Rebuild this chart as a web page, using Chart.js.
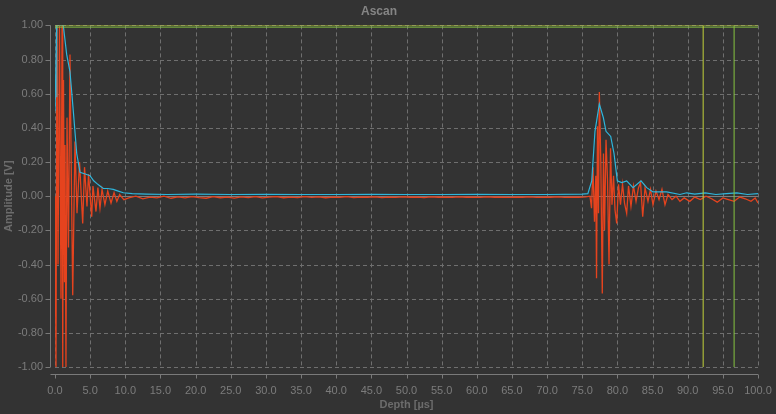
<!DOCTYPE html>
<html>
<head>
<meta charset="utf-8">
<title>Ascan</title>
<script src="https://cdn.jsdelivr.net/npm/chart.js@4/dist/chart.umd.min.js"></script>
<style>
  html, body { margin: 0; padding: 0; background: #333333; }
  canvas { display: block; }
</style>
</head>
<body>
<canvas id="ascan" width="776" height="414"></canvas>
<script>
// depth [us] / amplitude [V]
let rfTime = [
  0.0, 0.14, 0.28, 0.43, 0.64, 0.85, 1.0, 1.1, 1.21, 1.35, 1.42, 1.56, 1.71, 1.92, 2.13, 2.52,
  2.84, 3.13, 3.49, 3.94, 4.2, 4.55, 4.77, 5.22, 5.4, 5.83, 6.1, 6.4, 6.69, 7.1, 7.5, 7.97,
  8.4, 8.8, 9.2, 9.8,
  10.5, 11.5, 12.5, 13.5, 14.5, 15.5, 16.5, 17.5, 18.5, 19.5, 20.5, 21.5, 22.5, 23.5, 24.5,
  25.5, 26.5, 27.5, 28.5, 29.5, 30.5, 31.5, 32.5, 33.5, 34.5, 35.5, 36.5, 37.5, 38.5, 39.5,
  40.5, 41.5, 42.5, 43.5, 44.5, 45.5, 46.5, 47.5, 48.5, 49.5, 50.5, 51.5, 52.5, 53.5, 54.5,
  55.5, 56.5, 57.5, 58.5, 59.5, 60.5, 61.5, 62.5, 63.5, 64.5, 65.5, 66.5, 67.5, 68.5, 69.5,
  70.5, 71.5, 72.5, 73.5, 74.5, 75.5,
  76.1, 76.32, 76.53, 76.74, 76.93, 77.03, 77.17, 77.31, 77.43, 77.64, 77.85, 78.02, 78.17,
  78.38, 78.59, 78.81, 79.02, 79.23, 79.45, 79.66, 79.9, 80.16, 80.44, 80.73, 81.01, 81.32,
  81.58, 81.93, 82.29, 82.65, 83.0, 83.29, 83.6, 83.93, 84.35, 84.71, 85.06, 85.49, 85.92,
  86.34, 86.77, 87.2, 87.77, 88.34, 88.9,
  89.5, 90.3, 91.0, 91.8, 92.6, 93.4, 94.2, 95.0, 95.8, 96.6, 97.4, 98.2, 99.0, 99.6, 100.0
]
let rfAmp = [
  0.0, -1.0, 1.0, -0.4, 1.0, -0.6, 1.0, -1.0, 0.68, -0.5, 0.3, -1.0, 0.46, -0.3, 0.83, -0.58,
  0.32, -0.1, 0.2, -0.16, 0.17, -0.06, 0.13, -0.12, 0.06, -0.09, 0.05, -0.07, 0.04, -0.05, 0.03, -0.04,
  0.02, -0.03, 0.01, -0.02,
  -0.01, 0.0, -0.015, -0.005, -0.01, 0.0, -0.012, -0.004, -0.01, -0.002, -0.008, -0.012, -0.003, -0.009, -0.005,
  -0.011, -0.004, -0.008, -0.002, -0.01, -0.006, -0.003, -0.009, -0.005, -0.008, -0.003, -0.007, -0.004, -0.009, -0.005,
  -0.007, -0.003, -0.008, -0.005, -0.006, -0.004, -0.008, -0.005, -0.007, -0.004, -0.006, -0.005, -0.008, -0.004, -0.006,
  -0.005, -0.007, -0.004, -0.006, -0.005, -0.007, -0.004, -0.006, -0.005, -0.007, -0.005, -0.006, -0.004, -0.007, -0.005,
  -0.006, -0.004, -0.007, -0.005, -0.006, -0.004,
  0.0, -0.07, 0.17, -0.15, 0.12, -0.48, 0.41, -0.1, 0.61, 0.2, -0.57, 0.25, -0.2,
  0.33, 0.1, -0.4, 0.28, -0.05, 0.12, -0.08, -0.16, 0.07, -0.05, 0.07, -0.04, -0.1,
  0.06, -0.06, 0.06, -0.03, 0.05, 0.08, -0.12, 0.05, -0.03, 0.04, -0.05, 0.03, -0.02,
  0.04, -0.05, 0.01, -0.02, 0.0, -0.03,
  -0.01, -0.03, -0.005, -0.02, 0.0, -0.015, -0.035, -0.01, -0.02, -0.03, -0.005, -0.015, -0.03, -0.01, -0.04
]

let envTime = [
  0.0, 0.24, 1.18, 1.66, 2.13, 2.6, 3.09, 3.56, 4.3, 4.98, 5.5, 5.93, 6.4, 6.87, 7.5, 8.29, 9.0, 9.72,
  11, 13, 16, 20, 25, 30, 35, 40, 45, 50, 55, 60, 65, 70, 75, 75.8,
  76.35, 76.81, 77.43, 78.0, 78.38, 79.05, 79.52, 79.99, 80.61, 81.32, 82.22, 83.36, 84.17, 85.06,
  87.01, 88.9, 89.86, 91, 92.5, 94, 95.5, 97, 98.5, 100
]
let envAmp = [
  0.5, 1.0, 1.0, 0.83, 0.73, 0.5, 0.25, 0.14, 0.13, 0.12, 0.09, 0.075, 0.06, 0.045, 0.045, 0.04, 0.03, 0.02,
  0.015, 0.012, 0.01, 0.012, 0.01, 0.011, 0.01, 0.01, 0.011, 0.01, 0.01, 0.011, 0.01, 0.01, 0.012, 0.015,
  0.09, 0.38, 0.54, 0.46, 0.38, 0.35, 0.25, 0.09, 0.08, 0.09, 0.05, 0.09, 0.05, 0.025,
  0.025, 0.01, 0.02, 0.012, 0.02, 0.01, 0.015, 0.02, 0.01, 0.015
]

// gates: [start, end, level]
let gateA = [0.0, 92.2, 1.0]
let gateB = [0.0, 96.6, 0.99]
let markerTime = [0.24, 0.24]
let markerAmp = [0.58, 1.0]

let xTicks = { min: 0, max: 100, step: 5 }
let yTicks = { min: -1, max: 1, step: 0.2 }

function toPoints(xs, ys) {
  return xs.map((x, i) => ({ x: x, y: ys[i] }))
}

function gateLevel(g) {
  return [{ x: g[0], y: g[2] }, { x: xTicks.max, y: g[2] }]
}

function gateEnd(g) {
  return [{ x: g[1], y: yTicks.min }, { x: g[1], y: yTicks.max }]
}

// background, dashed grid, zero line and the offset axes
let scopeFrame = {
  id: 'scopeFrame',
  beforeDraw(chart) {
    let ctx = chart.ctx
    ctx.save()
    ctx.fillStyle = '#333333'
    ctx.fillRect(0, 0, chart.width, chart.height)
    ctx.restore()
  },
  beforeDatasetsDraw(chart) {
    let ctx = chart.ctx
    let a = chart.chartArea
    let x = chart.scales.x
    let y = chart.scales.y
    ctx.save()
    ctx.lineWidth = 1
    ctx.strokeStyle = '#6f6f6f'
    ctx.setLineDash([4, 3])
    x.ticks.forEach(t => {
      let px = Math.round(x.getPixelForValue(t.value)) + 0.5
      ctx.beginPath()
      ctx.moveTo(px, a.top)
      ctx.lineTo(px, a.bottom)
      ctx.stroke()
    })
    y.ticks.forEach(t => {
      if (Math.abs(t.value) < 1e-9) return
      let py = Math.round(y.getPixelForValue(t.value)) + 0.5
      ctx.beginPath()
      ctx.moveTo(a.left, py)
      ctx.lineTo(a.right, py)
      ctx.stroke()
    })
    ctx.setLineDash([])
    // zero line
    let zy = Math.round(y.getPixelForValue(0)) + 0.5
    ctx.strokeStyle = '#7d7d7d'
    ctx.beginPath()
    ctx.moveTo(a.left, zy)
    ctx.lineTo(a.right, zy)
    ctx.stroke()
    // offset axes
    ctx.strokeStyle = '#7a7a7a'
    let ax = Math.round(a.left) - 4.5
    let ay = Math.round(a.bottom) + 7.5
    ctx.beginPath()
    ctx.moveTo(ax, a.top)
    ctx.lineTo(ax, a.bottom)
    y.ticks.forEach(t => {
      let py = Math.round(y.getPixelForValue(t.value)) + 0.5
      ctx.moveTo(ax - 5, py)
      ctx.lineTo(ax, py)
    })
    ctx.moveTo(ax, ay)
    ctx.lineTo(a.right, ay)
    x.ticks.forEach(t => {
      let px = Math.round(x.getPixelForValue(t.value)) + 0.5
      ctx.moveTo(px, ay)
      ctx.lineTo(px, ay + 4)
    })
    ctx.stroke()
    ctx.restore()
  }
}

let canvas = document.querySelector('#ascan')
let context = canvas.getContext('2d')

let chart = new Chart(context, {
  type: 'line',
  data: {
    datasets: [
      { label: 'Gate A level', data: gateLevel(gateA), borderColor: '#c2d23a', borderWidth: 1 },
      { label: 'Gate A end', data: gateEnd(gateA), borderColor: '#c2d23a', borderWidth: 1 },
      { label: 'Gate B level', data: gateLevel(gateB), borderColor: '#86c440', borderWidth: 1 },
      { label: 'Gate B end', data: gateEnd(gateB), borderColor: '#86c440', borderWidth: 1 },
      {
        label: 'Envelope',
        data: toPoints(envTime, envAmp),
        borderColor: '#2eb6dc',
        borderWidth: 1.2
      },
      {
        label: 'Marker',
        data: toPoints(markerTime, markerAmp),
        borderColor: '#8a8a8a',
        borderWidth: 1.5
      },
      {
        label: 'RF',
        data: toPoints(rfTime, rfAmp),
        borderColor: '#e5431e',
        borderWidth: 1.3
      }
    ]
  },
  options: {
    responsive: false,
    animation: false,
    parsing: false,
    elements: {
      point: { radius: 0 },
      line: { tension: 0, fill: false }
    },
    layout: { padding: { left: 0, right: 18, top: 0, bottom: 0 } },
    plugins: {
      legend: { display: false },
      tooltip: { enabled: false },
      title: {
        display: true,
        text: 'Ascan',
        color: '#858585',
        font: { family: 'Liberation Sans, Arial, sans-serif', size: 12, weight: 'bold' },
        padding: { top: 4, bottom: 7 }
      }
    },
    scales: {
      x: {
        type: 'linear',
        min: xTicks.min,
        max: xTicks.max,
        grid: { display: false, drawTicks: false },
        border: { display: false },
        ticks: {
          stepSize: xTicks.step,
          autoSkip: false,
          maxRotation: 0,
          padding: 17,
          color: '#7c7c7c',
          font: { family: 'Liberation Sans, Arial, sans-serif', size: 11 },
          callback: v => Number(v).toFixed(1)
        },
        title: {
          display: true,
          text: 'Depth [µs]',
          color: '#6c6c6c',
          font: { family: 'Liberation Sans, Arial, sans-serif', size: 11, weight: 'bold' },
          padding: { top: 0, bottom: 2 }
        },
        afterFit: s => {
          s.height = 47
          s.paddingLeft = 0
          s.paddingRight = 0
        }
      },
      y: {
        type: 'linear',
        min: yTicks.min,
        max: yTicks.max,
        grid: { display: false, drawTicks: false },
        border: { display: false },
        ticks: {
          stepSize: yTicks.step,
          autoSkip: false,
          padding: 12,
          color: '#7c7c7c',
          font: { family: 'Liberation Sans, Arial, sans-serif', size: 11 },
          callback: v => Number(v).toFixed(2)
        },
        title: {
          display: true,
          text: 'Amplitude [V]',
          color: '#6c6c6c',
          font: { family: 'Liberation Sans, Arial, sans-serif', size: 11, weight: 'bold' },
          padding: { top: 2, bottom: 0 }
        },
        afterFit: s => {
          s.width = 55
          s.paddingTop = 0
          s.paddingBottom = 0
        }
      }
    }
  },
  plugins: [scopeFrame]
})
</script>
</body>
</html>
